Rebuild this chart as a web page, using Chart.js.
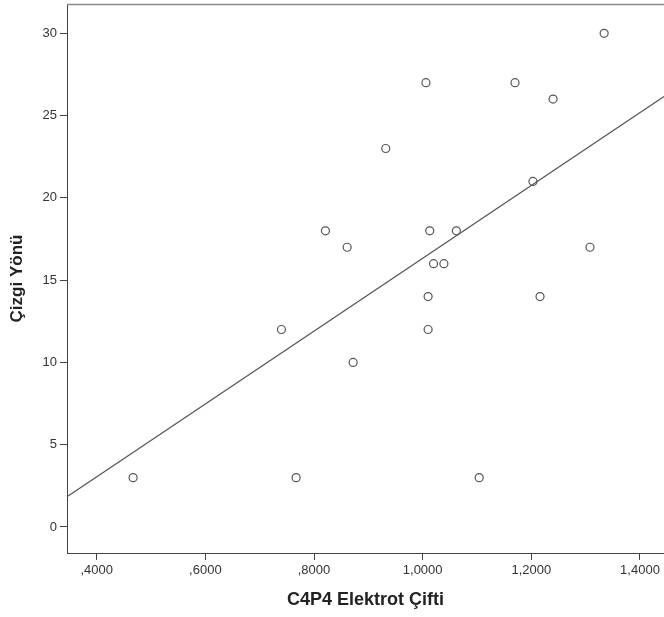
<!DOCTYPE html>
<html>
<head>
<meta charset="utf-8">
<script src="https://cdn.jsdelivr.net/npm/chart.js@4.4.0/dist/chart.umd.min.js"></script>
<style>
  body { margin: 0; background: #fff; overflow: hidden; }
  canvas { display: block; }
</style>
</head>
<body>
<canvas id="scatterChart" width="664" height="617"></canvas>
<script>
// values
const elektrotX = [0.467, 0.767, 1.104, 0.740, 0.872, 0.821, 0.861, 0.932, 1.006, 1.013,
                   1.010, 1.010, 1.020, 1.039, 1.062, 1.170, 1.203, 1.216, 1.240, 1.308, 1.334];
const cizgiY    = [3, 3, 3, 12, 10, 18, 17, 23, 27, 18,
                   14, 12, 16, 16, 18, 27, 21, 14, 26, 17, 30];

// fit line end points (as drawn in the picture)
const fitX = [0.3453, 1.4442];
const fitY = [1.84, 26.16];

const xTicks = [0.4, 0.6, 0.8, 1.0, 1.2, 1.4];
const xTickLabels = [",4000", ",6000", ",8000", "1,0000", "1,2000", "1,4000"];
const yTicks = [0, 5, 10, 15, 20, 25, 30];

const xRange = [0.3453, 1.4442];
const yRange = [-1.58, 31.78];

const FONT = "'Liberation Sans', Arial, sans-serif";
const INK = "#555";

const points = elektrotX.map((x, i) => ({ x, y: cizgiY[i] }));
const fitLine = fitX.map((x, i) => ({ x, y: fitY[i] }));

// top frame line of the plot box
const topBorder = {
  id: "topBorder",
  afterDraw(chart) {
    const { ctx, chartArea } = chart;
    ctx.save();
    ctx.strokeStyle = "#888";
    ctx.lineWidth = 1.5;
    ctx.beginPath();
    ctx.moveTo(chartArea.left, chartArea.top + 0.5);
    ctx.lineTo(chartArea.right, chartArea.top + 0.5);
    ctx.stroke();
    ctx.restore();
  }
};

new Chart(document.getElementById("scatterChart").getContext("2d"), {
  type: "scatter",
  data: {
    datasets: [
      {
        label: "Çizgi Yönü",
        data: points,
        pointStyle: "circle",
        pointRadius: 4,
        pointBorderWidth: 1.2,
        pointBorderColor: INK,
        pointBackgroundColor: "rgba(0,0,0,0)",
        order: 1
      },
      {
        type: "line",
        label: "fit",
        data: fitLine,
        borderColor: INK,
        borderWidth: 1.2,
        pointRadius: 0,
        fill: false,
        order: 2
      }
    ]
  },
  plugins: [topBorder],
  options: {
    responsive: false,
    animation: false,
    layout: { autoPadding: false, padding: { top: 4, left: 0, right: 0, bottom: 0 } },
    plugins: { legend: { display: false }, tooltip: { enabled: false } },
    scales: {
      x: {
        type: "linear",
        min: xRange[0],
        max: xRange[1],
        afterBuildTicks: s => { s.ticks = xTicks.map(v => ({ value: v })); },
        afterFit: s => { s.height = 64; s.paddingLeft = 0; s.paddingRight = 0; },
        grid: { display: true, drawOnChartArea: false, drawTicks: true, tickLength: 7, tickColor: "#444", tickWidth: 1 },
        border: { display: true, color: "#444", width: 1 },
        ticks: {
          padding: 3,
          color: "#333",
          font: { family: FONT, size: 13 },
          maxRotation: 0,
          autoSkip: false,
          callback: (v, i) => xTickLabels[i]
        },
        title: {
          display: true,
          text: "C4P4 Elektrot Çifti",
          color: "#222",
          font: { family: FONT, size: 18, weight: "bold" },
          padding: { top: 0, bottom: 6 }
        }
      },
      y: {
        type: "linear",
        min: yRange[0],
        max: yRange[1],
        afterBuildTicks: s => { s.ticks = yTicks.map(v => ({ value: v })); },
        afterFit: s => { s.width = 67; s.paddingTop = 0; s.paddingBottom = 0; },
        grid: { display: true, drawOnChartArea: false, drawTicks: true, tickLength: 7, tickColor: "#444", tickWidth: 1 },
        border: { display: true, color: "#444", width: 1 },
        ticks: {
          padding: 3,
          color: "#333",
          font: { family: FONT, size: 13 },
          autoSkip: false,
          callback: v => String(v)
        },
        title: {
          display: true,
          text: "Çizgi Yönü",
          color: "#222",
          font: { family: FONT, size: 17, weight: "bold" },
          padding: { top: 7, bottom: 0 }
        }
      }
    }
  }
});
</script>
</body>
</html>
